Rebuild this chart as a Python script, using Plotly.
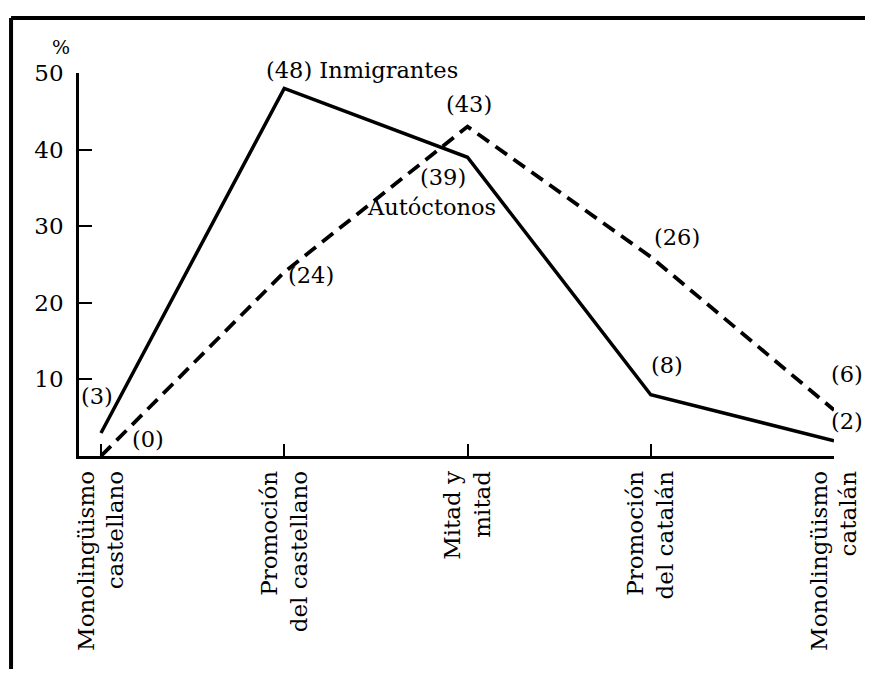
import plotly.graph_objects as go

# categories along the x axis
categorias = [
    "Monolingüismo<br>castellano",
    "Promoción<br>del castellano",
    "Mitad y<br>mitad",
    "Promoción<br>del catalán",
    "Monolingüismo<br>catalán",
]
inmigrantes = [3, 48, 39, 8, 2]
autoctonos = [0, 24, 43, 26, 6]
y_ticks = [10, 20, 30, 40, 50]

FONT = "DejaVu Serif"
xs = list(range(len(categorias)))

fig = go.Figure()
fig.add_trace(go.Scatter(
    x=xs, y=inmigrantes, mode="lines", name="Inmigrantes",
    line=dict(color="black", width=3.5), cliponaxis=False,
))
fig.add_trace(go.Scatter(
    x=xs, y=autoctonos, mode="lines", name="Autóctonos",
    line=dict(color="black", width=3.8, dash="14px,8px"), cliponaxis=False,
))

# value labels: (dx, dy) in pixels from the point
inm_off = [(-4, 37), None, (-25, -20), (16, 30), (13, 20)]
aut_off = [(47, 17), (27, -3), (1, 23), (26, 20), (13, 36)]
lab_font = dict(family=FONT, size=22.5, color="black")

for i, v in enumerate(inmigrantes):
    if inm_off[i] is None:
        continue
    dx, dy = inm_off[i]
    fig.add_annotation(x=xs[i], y=v, text=f"({v})", showarrow=False,
                       xshift=dx, yshift=dy, font=lab_font)
for i, v in enumerate(autoctonos):
    dx, dy = aut_off[i]
    fig.add_annotation(x=xs[i], y=v, text=f"({v})", showarrow=False,
                       xshift=dx, yshift=dy, font=lab_font)

# peak label with series name
fig.add_annotation(x=xs[1], y=inmigrantes[1], text=f"({inmigrantes[1]}) Inmigrantes",
                   showarrow=False, xanchor="left", xshift=-20, yshift=18, font=lab_font)
fig.add_annotation(x=xs[2], y=inmigrantes[2], text="Autóctonos", showarrow=False,
                   xshift=-36, yshift=-50, font=lab_font)

fig.add_annotation(xref="paper", yref="paper", x=-0.038, y=1.103, text="%",
                   showarrow=False, font=dict(family=FONT, size=19, color="black"))

# scanned page frame
fig.add_shape(type="line", xref="paper", yref="paper", x0=-0.090, x1=-0.090,
              y0=1.1436, y1=-0.6, line=dict(color="black", width=4))
fig.add_shape(type="line", xref="paper", yref="paper", x0=-0.090, x1=1.06,
              y0=1.1436, y1=1.1436, line=dict(color="black", width=4))

fig.update_xaxes(
    range=[-0.12, 4.0], tickvals=xs, ticktext=categorias, tickangle=-90,
    showline=True, linecolor="black", linewidth=2.5, ticks="inside", ticklen=12,
    tickwidth=2, tickcolor="black", showgrid=False, zeroline=False,
    ticklabelstandoff=3, automargin=False,
    tickfont=dict(family=FONT, size=23, color="black"),
)
fig.update_yaxes(
    range=[0, 50], tickvals=y_ticks, showline=True, linecolor="black", linewidth=2.5,
    ticks="inside", ticklen=13, tickwidth=2, tickcolor="black", showgrid=False,
    zeroline=False, ticklabelstandoff=8, automargin=False,
    tickfont=dict(family=FONT, size=23, color="black"),
)

# page body adds an 8px margin, so the figure is a bit smaller than the window
fig.update_layout(
    width=857, height=661, autosize=False,
    margin=dict(l=71, r=31, t=65, b=213),
    plot_bgcolor="white", paper_bgcolor="white",
    showlegend=False,
)

fig.write_html("out.html")
